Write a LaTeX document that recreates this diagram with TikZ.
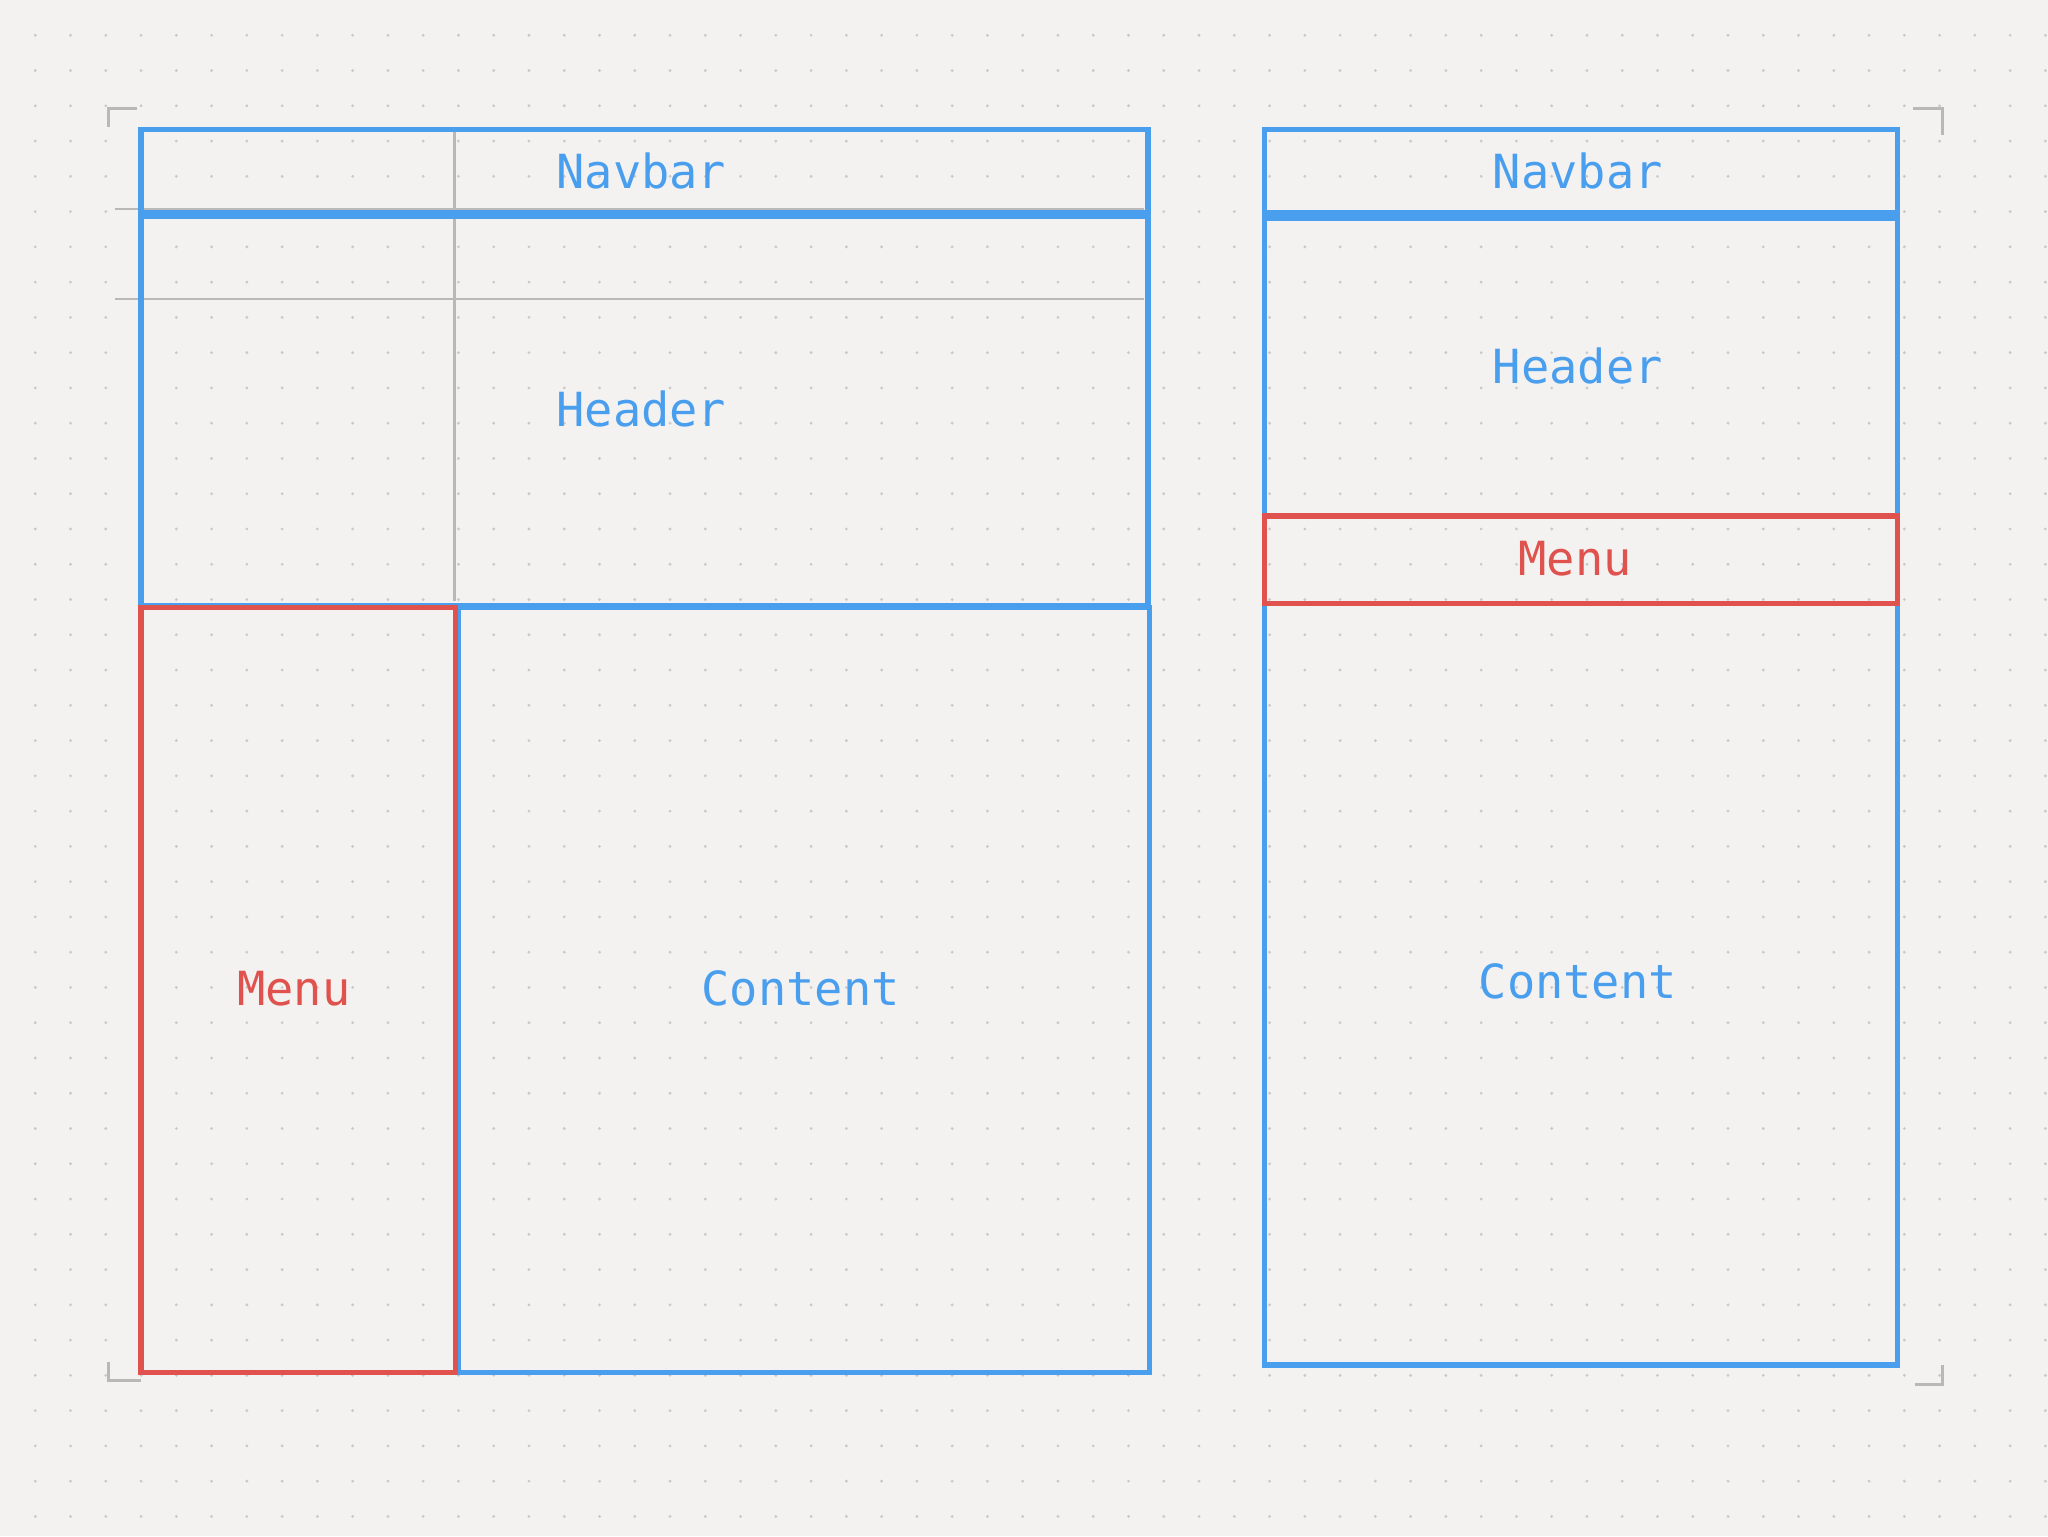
\documentclass[tikz,border=0pt]{standalone}
\usepackage{fontspec}
\setmonofont{DejaVu Sans Mono}
\definecolor{bg}{HTML}{F4F2F1}
\definecolor{dot}{HTML}{CBC9C8}
\definecolor{bl}{HTML}{4A9EEE}
\definecolor{rd}{HTML}{E0524E}
\definecolor{gr}{HTML}{B8B8B8}
\tikzset{
 bbox/.style={draw=bl,line width=4pt},
 rbox/.style={draw=rd,line width=4pt},
 glines/.style={draw=gr,line width=2pt},
 lbl/.style={font=\ttfamily\fontsize{36}{36}\selectfont,text=bl},
 rlbl/.style={font=\ttfamily\fontsize{36}{36}\selectfont,text=rd},
}
\begin{document}
\begin{tikzpicture}[x=1pt,y=-1pt]
\fill[bg] (0,0) rectangle (1568,1176);
\useasboundingbox (0,0) rectangle (1568,1176);
\foreach \i in {0,...,57}{\foreach \j in {0,...,43}{\fill[dot] (\i*27+27,\j*27+27) circle (1.2pt);}}
% gray guide lines
\draw[glines] (88,160) -- (876,160);
\draw[glines] (88,229) -- (876,229);
\draw[glines] (348,100) -- (348,460);
% corner marks
\draw[gr,line width=2pt] (83,97)--(83,83)--(105,83);
\draw[gr,line width=2pt] (1465,83)--(1487,83)--(1487,103);
\draw[gr,line width=2pt] (83,1043)--(83,1057)--(108,1057);
\draw[gr,line width=2pt] (1466,1060)--(1487,1060)--(1487,1045);
% left layout
\node[bbox,minimum width=771pt,minimum height=64pt,anchor=north west] (nav) at (106,97) {};
\node[bbox,minimum width=771pt,minimum height=298pt,anchor=north west] (hdr) at (106,164) {};
\node[bbox,minimum width=529pt,minimum height=586pt,anchor=north west] (cnt) at (349,463) {};
\node[rbox,minimum width=241pt,minimum height=586pt,anchor=north west] (menu) at (106,463) {};
\node[lbl] (navl) at (491,131) {Navbar};
\node[lbl] (hdrl) at (491,313) {Header};
\node[rlbl] (menul) at (225,757) {Menu};
\node[lbl] (cntl) at (613,757) {Content};
% right layout
\node[bbox,minimum width=485pt,minimum height=64pt,anchor=north west] (nav2) at (966,97) {};
\node[bbox,minimum width=485pt,minimum height=228pt,anchor=north west] (hdr2) at (966,165) {};
\node[bbox,minimum width=485pt,minimum height=583pt,anchor=north west] (cnt2) at (966,460) {};
\node[rbox,minimum width=485pt,minimum height=67pt,anchor=north west] (menu2) at (966,393) {};
\node[lbl] (nav2l) at (1208,131) {Navbar};
\node[lbl] (hdr2l) at (1208,280) {Header};
\node[rlbl] (menu2l) at (1206,428) {Menu};
\node[lbl] (cnt2l) at (1208,751) {Content};
\end{tikzpicture}
\end{document}
